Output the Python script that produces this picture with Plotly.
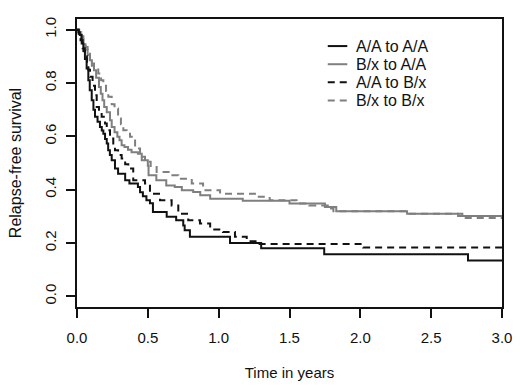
import plotly.graph_objects as go

# ---- data ----
series_names = ["A/A to A/A", "B/x to A/A", "A/A to B/x", "B/x to B/x"]

t_aa_aa = [0, 0.01, 0.02, 0.033, 0.045, 0.056, 0.068, 0.08, 0.09, 0.104, 0.116, 0.127, 0.145,
           0.162, 0.175, 0.186, 0.198, 0.21, 0.22, 0.232, 0.245, 0.268, 0.29, 0.34, 0.37, 0.43,
           0.445, 0.465, 0.49, 0.515, 0.536, 0.633, 0.70, 0.75, 0.76, 0.797, 1.08, 1.30, 1.745,
           2.76, 3.0]
s_aa_aa = [1.0, 0.99, 0.98, 0.948, 0.92, 0.89, 0.854, 0.81, 0.773, 0.735, 0.70, 0.673, 0.655,
           0.635, 0.622, 0.61, 0.59, 0.573, 0.548, 0.53, 0.51, 0.479, 0.46, 0.435, 0.423, 0.41,
           0.39, 0.375, 0.36, 0.349, 0.316, 0.298, 0.285, 0.266, 0.248, 0.223, 0.20, 0.18, 0.158,
           0.134, 0.134]

t_bx_aa = [0, 0.015, 0.03, 0.045, 0.06, 0.075, 0.09, 0.105, 0.12, 0.135, 0.155, 0.168, 0.18,
           0.192, 0.21, 0.233, 0.245, 0.265, 0.285, 0.30, 0.315, 0.335, 0.36, 0.385, 0.43, 0.457,
           0.50, 0.505, 0.56, 0.63, 0.69, 0.74, 0.82, 0.87, 0.94, 1.17, 1.5, 1.75, 1.83, 2.33,
           2.69, 3.0]
s_bx_aa = [1.0, 0.985, 0.965, 0.945, 0.925, 0.905, 0.885, 0.865, 0.848, 0.82, 0.785, 0.76, 0.735,
           0.71, 0.69, 0.66, 0.635, 0.615, 0.598, 0.585, 0.567, 0.56, 0.55, 0.54, 0.535, 0.51,
           0.49, 0.454, 0.435, 0.416, 0.41, 0.398, 0.391, 0.379, 0.366, 0.358, 0.348, 0.335,
           0.319, 0.31, 0.301, 0.301]

t_aa_bx = [0, 0.012, 0.025, 0.04, 0.055, 0.07, 0.08, 0.092, 0.11, 0.127, 0.139, 0.155, 0.174,
           0.198, 0.21, 0.233, 0.256, 0.268, 0.29, 0.315, 0.34, 0.362, 0.397, 0.48, 0.515, 0.586,
           0.668, 0.715, 0.785, 0.868, 0.94, 1.03, 1.115, 1.198, 1.277, 2.02, 3.0]
s_aa_bx = [1.0, 0.985, 0.96, 0.93, 0.90, 0.87, 0.85, 0.823, 0.79, 0.754, 0.71, 0.69, 0.673,
           0.648, 0.623, 0.592, 0.56, 0.548, 0.53, 0.517, 0.495, 0.479, 0.435, 0.423, 0.385, 0.36,
           0.341, 0.31, 0.285, 0.273, 0.251, 0.241, 0.223, 0.207, 0.196, 0.183, 0.183]

t_bx_bx = [0, 0.015, 0.03, 0.045, 0.06, 0.075, 0.092, 0.12, 0.15, 0.17, 0.186, 0.205, 0.221,
           0.245, 0.265, 0.29, 0.31, 0.327, 0.35, 0.374, 0.41, 0.445, 0.48, 0.52, 0.562, 0.656,
           0.715, 0.81, 0.89, 1.01, 1.256, 1.36, 1.55, 1.64, 1.77, 1.81, 2.33, 2.72, 3.0]
s_bx_bx = [1.0, 0.99, 0.975, 0.955, 0.935, 0.91, 0.873, 0.855, 0.836, 0.81, 0.79, 0.77, 0.748,
           0.72, 0.704, 0.667, 0.645, 0.623, 0.61, 0.598, 0.554, 0.523, 0.505, 0.485, 0.466,
           0.454, 0.441, 0.423, 0.398, 0.385, 0.373, 0.36, 0.348, 0.341, 0.329, 0.319, 0.31,
           0.294, 0.294]

x_ticks = [0.0, 0.5, 1.0, 1.5, 2.0, 2.5, 3.0]
x_ticklabels = ["0.0", "0.5", "1.0", "1.5", "2.0", "2.5", "3.0"]
y_ticks = [0.0, 0.2, 0.4, 0.6, 0.8, 1.0]
y_ticklabels = ["0.0", "0.2", "0.4", "0.6", "0.8", "1.0"]

# ---- styles ----
BLACK = "#111111"
GRAY = "#7f7f7f"
DASH = "7px,5px"
FONT = "Liberation Sans, Arial, sans-serif"
styles = [
    dict(color=BLACK, dash="solid"),
    dict(color=GRAY, dash="solid"),
    dict(color=BLACK, dash=DASH),
    dict(color=GRAY, dash=DASH),
]
series_t = [t_aa_aa, t_bx_aa, t_aa_bx, t_bx_bx]
series_s = [s_aa_aa, s_bx_aa, s_aa_bx, s_bx_bx]

fig = go.Figure()
# draw gray curves first so black ones sit on top
for i in [3, 1, 2, 0]:
    fig.add_trace(go.Scatter(
        x=series_t[i], y=series_s[i], mode="lines", name=series_names[i],
        line=dict(color=styles[i]["color"], dash=styles[i]["dash"], width=2, shape="hv"),
        showlegend=False, hoverinfo="skip",
    ))

# legend drawn as text + sample lines (R-style compact legend)
leg_rows_y = [0.906, 0.843, 0.780, 0.717]
for i, name in enumerate(series_names):
    yy = leg_rows_y[i]
    fig.add_shape(type="line", xref="paper", yref="paper",
                  x0=0.590, x1=0.636, y0=yy, y1=yy,
                  line=dict(color=styles[i]["color"], dash=styles[i]["dash"], width=2))
    fig.add_annotation(xref="paper", yref="paper", x=0.653, y=yy, text=name,
                       showarrow=False, xanchor="left", yanchor="middle",
                       borderpad=0,
                       font=dict(family=FONT, size=16, color=BLACK))

fig.update_layout(
    width=520, height=388,
    margin=dict(l=77, r=18, t=19, b=81),
    paper_bgcolor="white", plot_bgcolor="white",
    font=dict(family=FONT, size=15, color=BLACK),
    showlegend=False,
)
fig.update_xaxes(
    range=[0, 3], tickvals=x_ticks, ticktext=x_ticklabels,
    showline=True, mirror=True, linecolor=BLACK, linewidth=1.5,
    ticks="outside", ticklen=9, tickwidth=1.5, tickcolor=BLACK,
    ticklabelstandoff=7,
    showgrid=False, zeroline=False, automargin=False,
    tickfont=dict(family=FONT, size=15, color=BLACK),
    title=dict(text="Time in years", font=dict(family=FONT, size=15, color=BLACK), standoff=23),
)
fig.update_yaxes(
    range=[-0.04, 1.04], tickvals=y_ticks, ticktext=y_ticklabels, tickangle=-90,
    showline=True, mirror=True, linecolor=BLACK, linewidth=1.5,
    ticks="outside", ticklen=9, tickwidth=1.5, tickcolor=BLACK,
    ticklabelstandoff=4,
    showgrid=False, zeroline=False, automargin=False,
    tickfont=dict(family=FONT, size=15, color=BLACK),
    title=dict(text="Relapse-free survival", font=dict(family=FONT, size=16, color=BLACK), standoff=17),
)

fig.write_html("out.html", config={"displayModeBar": False},
               post_script="document.body.style.margin='0';")
